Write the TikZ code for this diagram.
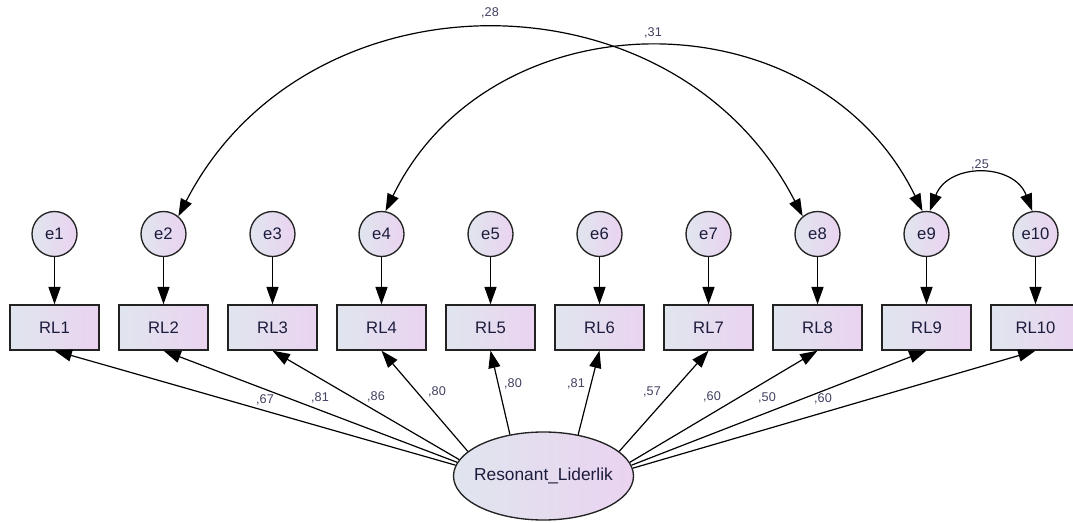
\documentclass[tikz,border=0pt]{standalone}
\usepackage{fontspec}
\setmainfont{Liberation Sans}
\usetikzlibrary{arrows.meta,shapes.geometric}

\definecolor{shadeL}{HTML}{E0E5EE}
\definecolor{shadeR}{HTML}{EAD3F0}
\definecolor{ink}{HTML}{1C1C3C}
\definecolor{coef}{HTML}{404060}
\definecolor{edgeC}{HTML}{222222}

\tikzset{
  tip/.tip={Triangle[length=13pt,width=9pt]},
  box/.style={draw=edgeC,line width=1pt,left color=shadeL,right color=shadeR,
    minimum width=66.75pt,minimum height=33.75pt,inner sep=0pt,
    font=\fontsize{12.5}{14}\selectfont,text=ink},
  err/.style={circle,draw=edgeC,line width=1pt,left color=shadeL,right color=shadeR,
    minimum size=33.75pt,inner sep=0pt,font=\fontsize{12.5}{14}\selectfont,text=ink},
  lat/.style={ellipse,draw=edgeC,line width=1pt,left color=shadeL,right color=shadeR,
    minimum width=135pt,minimum height=66pt,inner sep=0pt,
    font=\fontsize{13}{15}\selectfont,text=ink},
  link/.style={draw=black,line width=0.9pt,-tip},
  cov/.style={draw=black,line width=0.9pt,tip-tip},
  lbl/.style={font=\fontsize{9.5}{11}\selectfont,text=coef,inner sep=0pt}
}

\begin{document}
\begin{tikzpicture}[x=0.75pt,y=-0.75pt]
\useasboundingbox (0,0) rectangle (1073,523);

% error terms, indicators and their error paths
\foreach \i in {1,...,10}{
  \pgfmathsetmacro\cx{54.5+109*(\i-1)}
  \node[err] (e\i) at (\cx,234) {e\i};
  \node[box] (RL\i) at (\cx,327.5) {RL\i};
  \draw[link] (e\i) -- (RL\i);
}

% latent factor and its loadings (each leaves the ellipse at its own angle)
\node[lat] (F) at (543.5,476) {\makebox[0pt]{Resonant\_Liderlik}};
\foreach \i/\a in {1/173.5,2/171.5,3/169,4/162,5/129,6/50,7/18,8/9,9/7,10/5}{
  \draw[link] (F.\a) -- (RL\i.south);
}

% standardized loadings
\node[lbl] (l1)  at (265,400) {,67};
\node[lbl] (l2)  at (320,398) {,81};
\node[lbl] (l3)  at (376,397) {,86};
\node[lbl] (l4)  at (437,392) {,80};
\node[lbl] (l5)  at (513,384) {,80};
\node[lbl] (l6)  at (576,384) {,81};
\node[lbl] (l7)  at (652,392) {,57};
\node[lbl] (l8)  at (712,397) {,60};
\node[lbl] (l9)  at (767,398) {,50};
\node[lbl] (l10) at (823,399) {,60};

% error covariances
\draw[cov] (e2.50) .. controls +(128,-249) and +(-128,-249) .. (e8.130);
\draw[cov] (e4.80) .. controls +(106,-218) and +(-106,-218) .. (e9.100);
\draw[cov] (e9.82) .. controls +(18.6,-48.5) and +(-18.6,-48.5) .. (e10.98);
\node[lbl] (c28) at (490,13) {,28};
\node[lbl] (c31) at (653,33) {,31};
\node[lbl] (c25) at (980,165) {,25};
\end{tikzpicture}
\end{document}
